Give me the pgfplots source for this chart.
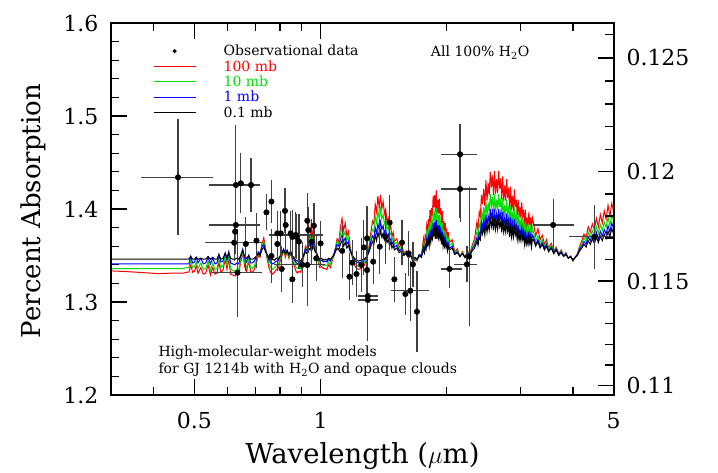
\documentclass[border=0pt]{standalone}
\usepackage{fontspec}
\setmainfont{DejaVu Serif}
\setsansfont{DejaVu Sans}
\usepackage{pgfplots}
\usepackage{pgfplotstable}
\pgfplotsset{compat=1.18}
\definecolor{mgreen}{rgb}{0,0.88,0}

\pgfplotstableread{
lam blk blu grn red
0.3162 1.346 1.341 1.336 1.3335
0.35 1.346 1.341 1.336 1.3325
0.38 1.346 1.341 1.336 1.3315
0.41 1.346 1.341 1.336 1.3305
0.44 1.346 1.341 1.336 1.331
0.47 1.346 1.341 1.336 1.331
0.48 1.346 1.341 1.337 1.332
0.485 1.346 1.341 1.337 1.332
0.490 1.349 1.349 1.345 1.340
0.495 1.346 1.342 1.337 1.332
0.500 1.346 1.343 1.338 1.333
0.505 1.348 1.348 1.343 1.339
0.510 1.346 1.342 1.336 1.331
0.518 1.347 1.347 1.342 1.337
0.525 1.346 1.341 1.335 1.330
0.532 1.346 1.342 1.336 1.331
0.539 1.349 1.348 1.344 1.340
0.546 1.346 1.341 1.334 1.329
0.553 1.348 1.347 1.342 1.337
0.560 1.346 1.341 1.335 1.330
0.566 1.346 1.342 1.336 1.331
0.572 1.351 1.351 1.347 1.343
0.578 1.346 1.343 1.337 1.332
0.585 1.347 1.344 1.339 1.334
0.592 1.352 1.353 1.349 1.346
0.598 1.348 1.345 1.340 1.335
0.604 1.353 1.354 1.350 1.347
0.610 1.347 1.342 1.336 1.330
0.617 1.346 1.341 1.334 1.329
0.624 1.346 1.340 1.333 1.328
0.631 1.347 1.342 1.335 1.330
0.638 1.346 1.341 1.335 1.331
0.645 1.350 1.350 1.346 1.343
0.652 1.355 1.357 1.355 1.353
0.659 1.349 1.347 1.342 1.338
0.666 1.347 1.343 1.337 1.333
0.674 1.350 1.350 1.346 1.344
0.681 1.346 1.342 1.337 1.333
0.688 1.346 1.342 1.336 1.332
0.695 1.347 1.344 1.339 1.335
0.702 1.349 1.348 1.344 1.341
0.710 1.352 1.354 1.352 1.350
0.717 1.350 1.352 1.350 1.348
0.724 1.356 1.359 1.360 1.362
0.732 1.359 1.362 1.365 1.369
0.739 1.354 1.356 1.357 1.358
0.746 1.351 1.350 1.348 1.346
0.753 1.347 1.345 1.341 1.337
0.760 1.345 1.342 1.337 1.332
0.768 1.346 1.341 1.335 1.330
0.776 1.345 1.342 1.337 1.332
0.784 1.347 1.344 1.339 1.335
0.792 1.346 1.344 1.340 1.336
0.800 1.349 1.349 1.346 1.343
0.808 1.352 1.353 1.351 1.349
0.816 1.356 1.357 1.356 1.355
0.824 1.352 1.352 1.350 1.348
0.832 1.355 1.356 1.355 1.354
0.840 1.351 1.351 1.349 1.347
0.848 1.354 1.355 1.354 1.353
0.856 1.350 1.349 1.347 1.345
0.864 1.348 1.346 1.343 1.340
0.872 1.345 1.343 1.338 1.334
0.880 1.344 1.341 1.336 1.331
0.888 1.345 1.342 1.337 1.333
0.896 1.344 1.341 1.336 1.332
0.904 1.347 1.346 1.342 1.339
0.912 1.350 1.351 1.350 1.349
0.920 1.354 1.357 1.358 1.360
0.928 1.352 1.355 1.356 1.357
0.936 1.358 1.362 1.366 1.372
0.944 1.356 1.360 1.364 1.368
0.950 1.362 1.367 1.374 1.385
0.956 1.357 1.360 1.364 1.370
0.962 1.360 1.364 1.369 1.378
0.970 1.354 1.356 1.358 1.361
0.978 1.352 1.353 1.353 1.354
0.986 1.349 1.348 1.346 1.344
0.995 1.346 1.344 1.340 1.337
1.005 1.347 1.345 1.341 1.338
1.015 1.345 1.343 1.339 1.336
1.025 1.346 1.344 1.340 1.336
1.035 1.345 1.343 1.339 1.335
1.045 1.347 1.346 1.343 1.340
1.055 1.346 1.344 1.340 1.337
1.065 1.348 1.348 1.346 1.344
1.075 1.350 1.351 1.350 1.349
1.085 1.354 1.357 1.358 1.358
1.095 1.358 1.362 1.365 1.368
1.105 1.356 1.360 1.363 1.365
1.115 1.362 1.367 1.373 1.380
1.125 1.366 1.372 1.380 1.390
1.135 1.360 1.365 1.371 1.377
1.145 1.364 1.369 1.376 1.385
1.155 1.358 1.362 1.366 1.371
1.165 1.361 1.365 1.370 1.376
1.175 1.355 1.357 1.359 1.361
1.185 1.352 1.352 1.352 1.352
1.195 1.349 1.348 1.346 1.344
1.21 1.346 1.344 1.341 1.338
1.23 1.344 1.342 1.338 1.335
1.25 1.345 1.343 1.339 1.336
1.27 1.346 1.345 1.342 1.339
1.29 1.349 1.349 1.348 1.347
1.30 1.352 1.354 1.355 1.355
1.31 1.356 1.359 1.362 1.365
1.32 1.361 1.366 1.371 1.377
1.33 1.365 1.371 1.378 1.387
1.34 1.362 1.368 1.376 1.384
1.35 1.372 1.380 1.392 1.405
1.36 1.366 1.374 1.385 1.397
1.37 1.375 1.384 1.398 1.414
1.38 1.369 1.377 1.389 1.401
1.39 1.377 1.386 1.400 1.415
1.40 1.370 1.378 1.389 1.400
1.41 1.374 1.382 1.394 1.408
1.42 1.367 1.374 1.384 1.395
1.43 1.371 1.378 1.388 1.400
1.44 1.364 1.370 1.378 1.386
1.45 1.367 1.373 1.381 1.390
1.46 1.361 1.366 1.372 1.378
1.47 1.364 1.368 1.374 1.382
1.48 1.358 1.362 1.366 1.370
1.49 1.361 1.365 1.369 1.375
1.50 1.356 1.359 1.362 1.365
1.52 1.358 1.361 1.364 1.368
1.54 1.353 1.355 1.357 1.359
1.56 1.355 1.357 1.359 1.362
1.58 1.350 1.351 1.352 1.353
1.60 1.352 1.353 1.354 1.355
1.62 1.348 1.348 1.348 1.348
1.64 1.350 1.350 1.350 1.350
1.66 1.346 1.345 1.344 1.343
1.68 1.348 1.347 1.346 1.345
1.70 1.346 1.346 1.345 1.344
1.72 1.350 1.351 1.351 1.351
1.74 1.348 1.349 1.350 1.350
1.760 1.357 1.359 1.362 1.368
1.768 1.353 1.354 1.356 1.359
1.776 1.358 1.361 1.365 1.371
1.784 1.356 1.359 1.362 1.368
1.792 1.364 1.368 1.374 1.383
1.800 1.361 1.364 1.370 1.378
1.808 1.367 1.371 1.378 1.389
1.816 1.360 1.364 1.369 1.377
1.824 1.371 1.377 1.386 1.399
1.832 1.364 1.368 1.375 1.385
1.840 1.372 1.378 1.387 1.401
1.848 1.368 1.373 1.381 1.393
1.856 1.378 1.385 1.396 1.414
1.864 1.372 1.378 1.387 1.402
1.872 1.378 1.386 1.398 1.415
1.880 1.368 1.374 1.383 1.396
1.888 1.381 1.388 1.401 1.420
1.896 1.368 1.374 1.382 1.395
1.904 1.376 1.383 1.394 1.410
1.912 1.369 1.374 1.383 1.395
1.920 1.376 1.383 1.394 1.411
1.928 1.368 1.374 1.382 1.394
1.936 1.372 1.378 1.387 1.401
1.944 1.362 1.366 1.373 1.382
1.952 1.371 1.376 1.385 1.398
1.960 1.360 1.364 1.369 1.377
1.968 1.366 1.370 1.377 1.387
1.976 1.360 1.363 1.369 1.376
1.984 1.365 1.369 1.376 1.385
1.992 1.359 1.362 1.367 1.374
2.000 1.361 1.364 1.369 1.377
2.008 1.355 1.357 1.360 1.364
2.016 1.360 1.363 1.368 1.375
2.03 1.356 1.358 1.361 1.364
2.06 1.358 1.360 1.363 1.367
2.09 1.351 1.352 1.353 1.354
2.12 1.353 1.354 1.355 1.357
2.15 1.349 1.349 1.349 1.349
2.18 1.352 1.352 1.353 1.354
2.21 1.348 1.348 1.348 1.348
2.24 1.352 1.353 1.354 1.355
2.27 1.350 1.350 1.351 1.352
2.30 1.355 1.357 1.359 1.361
2.33 1.358 1.361 1.364 1.368
2.360 1.365 1.369 1.376 1.386
2.375 1.361 1.364 1.369 1.377
2.390 1.370 1.375 1.384 1.397
2.405 1.367 1.372 1.380 1.392
2.420 1.378 1.386 1.397 1.415
2.435 1.373 1.379 1.390 1.405
2.450 1.381 1.389 1.402 1.422
2.465 1.372 1.378 1.388 1.403
2.480 1.385 1.394 1.409 1.431
2.495 1.375 1.382 1.393 1.409
2.510 1.384 1.393 1.407 1.428
2.525 1.377 1.385 1.397 1.415
2.540 1.390 1.400 1.416 1.440
2.555 1.381 1.390 1.403 1.423
2.570 1.388 1.397 1.413 1.436
2.585 1.377 1.385 1.397 1.415
2.600 1.390 1.400 1.416 1.441
2.615 1.378 1.385 1.398 1.416
2.630 1.386 1.395 1.410 1.432
2.645 1.378 1.386 1.399 1.417
2.660 1.390 1.400 1.416 1.441
2.675 1.381 1.389 1.402 1.422
2.690 1.386 1.396 1.411 1.433
2.705 1.375 1.382 1.394 1.411
2.720 1.387 1.397 1.412 1.435
2.735 1.375 1.382 1.393 1.409
2.750 1.382 1.391 1.404 1.425
2.765 1.375 1.381 1.393 1.409
2.780 1.386 1.395 1.410 1.432
2.795 1.376 1.384 1.395 1.412
2.810 1.382 1.390 1.403 1.423
2.825 1.370 1.376 1.386 1.400
2.840 1.382 1.391 1.404 1.424
2.855 1.370 1.376 1.385 1.399
2.870 1.378 1.385 1.397 1.414
2.885 1.370 1.375 1.385 1.398
2.900 1.381 1.389 1.402 1.421
2.915 1.372 1.378 1.387 1.402
2.930 1.376 1.383 1.394 1.410
2.945 1.367 1.372 1.381 1.393
2.960 1.376 1.383 1.394 1.410
2.975 1.366 1.371 1.379 1.391
2.990 1.372 1.378 1.388 1.402
3.005 1.366 1.371 1.379 1.390
3.020 1.375 1.381 1.391 1.407
3.035 1.367 1.372 1.380 1.392
3.050 1.371 1.377 1.386 1.399
3.065 1.362 1.366 1.373 1.382
3.080 1.371 1.377 1.386 1.399
3.095 1.362 1.365 1.371 1.380
3.110 1.367 1.372 1.380 1.391
3.125 1.362 1.365 1.371 1.380
3.140 1.370 1.376 1.384 1.397
3.155 1.363 1.367 1.374 1.383
3.170 1.368 1.372 1.380 1.391
3.185 1.359 1.362 1.367 1.375
3.200 1.367 1.372 1.380 1.391
3.22 1.367 1.370 1.375 1.385
3.26 1.360 1.362 1.366 1.371
3.30 1.365 1.367 1.371 1.379
3.34 1.358 1.360 1.363 1.367
3.38 1.362 1.364 1.367 1.372
3.42 1.356 1.358 1.360 1.362
3.46 1.360 1.362 1.364 1.367
3.50 1.354 1.355 1.357 1.358
3.55 1.358 1.359 1.361 1.363
3.60 1.352 1.353 1.354 1.355
3.65 1.356 1.357 1.358 1.359
3.70 1.350 1.351 1.351 1.352
3.75 1.353 1.354 1.355 1.356
3.80 1.349 1.349 1.350 1.350
3.85 1.351 1.352 1.352 1.353
3.90 1.347 1.347 1.347 1.347
3.95 1.349 1.349 1.349 1.349
4.00 1.345 1.345 1.344 1.344
4.05 1.348 1.348 1.348 1.348
4.10 1.350 1.351 1.351 1.352
4.15 1.355 1.357 1.358 1.360
4.20 1.358 1.360 1.363 1.366
4.25 1.362 1.365 1.369 1.373
4.30 1.359 1.362 1.365 1.369
4.35 1.366 1.370 1.375 1.381
4.40 1.362 1.366 1.370 1.375
4.45 1.368 1.372 1.377 1.384
4.50 1.363 1.367 1.372 1.378
4.55 1.370 1.375 1.381 1.390
4.60 1.364 1.368 1.374 1.381
4.65 1.371 1.376 1.383 1.394
4.70 1.366 1.371 1.377 1.385
4.75 1.373 1.378 1.386 1.398
4.80 1.368 1.373 1.380 1.389
4.85 1.376 1.382 1.391 1.404
4.90 1.370 1.375 1.382 1.392
4.95 1.379 1.385 1.393 1.406
5.012 1.372 1.378 1.386 1.396
}\models

\begin{document}
\begin{tikzpicture}
\begin{axis}[
  at={(0bp,0bp)}, anchor=south west,
  scale only axis, width=503bp, height=372bp,
  xmode=log, xmin=0.3162, xmax=5.012,
  ymin=1.2, ymax=1.6,
  axis line style={line width=1.5bp},
  every tick/.style={black, line width=1.3bp},
  major tick length=16bp, minor tick length=8.5bp,
  tick align=inside,
  /pgf/number format/assume math mode=true,
  tick label style={font=\fontsize{22bp}{26bp}\selectfont},
  xtick={0.5,1,5}, xticklabels={0.5,1,5},
  minor xtick={0.4,0.6,0.7,0.8,0.9,2,3,4},
  xtick pos=both, xticklabel pos=lower,
  ytick={1.2,1.3,1.4,1.5,1.6}, yticklabels={1.2,1.3,1.4,1.5,1.6},
  minor y tick num=4,
  ytick pos=left, yticklabel pos=left,
  xticklabel style={yshift=-14bp},
  yticklabel style={xshift=-9bp},
  xlabel={Wavelength ($\mu$m)},
  ylabel={Percent Absorption},
  xlabel style={font=\fontsize{27.5bp}{31bp}\selectfont, at={(axis description cs:0.5,-0.163)}, anchor=center},
  ylabel style={font=\fontsize{26bp}{30bp}\selectfont, at={(axis description cs:-0.155,0.4946)}, anchor=center},
  legend style={draw=none, fill=none, at={(rel axis cs:0.0835,0.9406)}, anchor=north west,
    font=\fontsize{14bp}{16bp}\selectfont, inner sep=0pt, outer sep=0pt, row sep=3.2bp,
    nodes={inner sep=0pt}},
  legend cell align=left,
]
\addlegendimage{legend image code/.code={\path[draw=none,fill=none] (0bp,0bp) -- (70bp,0bp); \fill[black] (21bp,0bp) circle (1.9bp);}}
\addlegendentry{Observational data}
\addlegendimage{legend image code/.code={\path[draw=none,fill=none] (0bp,0bp) -- (70bp,0bp); \draw[red, line width=1.3bp] (0bp,0bp) -- (42bp,0bp);}}
\addlegendentry{\textcolor{red}{100 mb}}
\addlegendimage{legend image code/.code={\path[draw=none,fill=none] (0bp,0bp) -- (70bp,0bp); \draw[mgreen, line width=1.3bp] (0bp,0bp) -- (42bp,0bp);}}
\addlegendentry{\textcolor{mgreen}{10 mb}}
\addlegendimage{legend image code/.code={\path[draw=none,fill=none] (0bp,0bp) -- (70bp,0bp); \draw[blue, line width=1.3bp] (0bp,0bp) -- (42bp,0bp);}}
\addlegendentry{\textcolor{blue}{1 mb}}
\addlegendimage{legend image code/.code={\path[draw=none,fill=none] (0bp,0bp) -- (70bp,0bp); \draw[black, line width=1.3bp] (0bp,0bp) -- (42bp,0bp);}}
\addlegendentry{0.1 mb}

\addplot[red, line width=1bp, forget plot] table[x=lam, y=red] {\models};
\addplot[mgreen, line width=1bp, forget plot] table[x=lam, y=grn] {\models};
\addplot[blue, line width=1bp, forget plot] table[x=lam, y=blu] {\models};
\addplot[black, line width=1bp, forget plot] table[x=lam, y=blk] {\models};

% observations with wavelength bins
\addplot[only marks, mark=*, mark size=2.8bp, black, forget plot,
  error bars/.cd, x dir=both, x explicit, y dir=both, y explicit,
  error bar style={line width=1.2bp, black!75},
  error mark options={line width=1.2bp, black!75, mark size=4bp}]
coordinates {
(0.457,1.434) += (0.0846,0.058) -= (0.0755,0.058)
(0.628,1.4258) += (0.072,0.060) -= (0.0744,0.060)
(0.628,1.3828) += (0.072,0.015) -= (0.0744,0.015)
(0.6221,1.3638) += (0.0861,0.015) -= (0.0805,0.015)
(0.6337,1.3315) += (0.0745,0.043) -= (0.071,0.043)
(0.6826,1.4258) += (0.02,0.025) -= (0.02,0.025)
(0.873,1.372) += (0.117,0.02) -= (0.103,0.02)
(0.9047,1.340) += (0.095,0.02) -= (0.115,0.02)
(1.296,1.3065) += (0.043,0.025) -= (0.039,0.025)
(1.296,1.3022) += (0.043,0.040) -= (0.039,0.040)
(1.637,1.3121) += (0.14,0.028) -= (0.129,0.028)
(2.03,1.3355) += (0.099,0.016) -= (0.047,0.016)
(2.152,1.4588) += (0.164,0.028) -= (0.169,0.028)
(2.152,1.4215) += (0.164,0.031) -= (0.169,0.031)
(2.234,1.3405) += (0.082,0.015) -= (0.105,0.015)
(3.587,1.3828) += (0.344,0.024) -= (0.311,0.024)
(4.508,1.370) += (0.386,0.030) -= (0.504,0.030)
};

% spectroscopic observations
\addplot[only marks, mark=*, mark size=2.8bp, black, forget plot,
  error bars/.cd, y dir=both, y explicit,
  error bar style={line width=1.2bp, black!75},
  error mark options={line width=1.2bp, black!75, mark size=4bp}]
coordinates {
(0.6453,1.4276) +- (0,0.028)
(0.6255,1.3756) +- (0,0.02)
(0.6632,1.3624) +- (0,0.025)
(0.7032,1.366) +- (0,0.025)
(0.7429,1.3964) +- (0,0.015)
(0.7636,1.408) +- (0,0.019)
(0.7636,1.3495) +- (0,0.025)
(0.7889,1.3738) +- (0,0.02)
(0.7889,1.3624) +- (0,0.025)
(0.8032,1.3738) +- (0,0.02)
(0.8077,1.3355) +- (0,0.02)
(0.8224,1.398) +- (0,0.02)
(0.8256,1.3828) +- (0,0.025)
(0.8485,1.3738) +- (0,0.02)
(0.8564,1.3244) +- (0,0.021)
(0.8564,1.370) +- (0,0.025)
(0.8768,1.370) +- (0,0.02)
(0.888,1.365) +- (0,0.025)
(0.9298,1.3874) +- (0,0.025)
(0.935,1.3774) +- (0,0.02)
(0.9298,1.3398) +- (0,0.04)
(0.9519,1.3649) +- (0,0.02)
(0.964,1.382) +- (0,0.02)
(0.9767,1.347) +- (0,0.02)
(1.0,1.363) +- (0,0.02)
(1.126,1.355) +- (0,0.025)
(1.172,1.3272) +- (0,0.021)
(1.19,1.3423) +- (0,0.02)
(1.218,1.3301) +- (0,0.02)
(1.25,1.3398) +- (0,0.025)
(1.268,1.3587) +- (0,0.025)
(1.291,1.3685) +- (0,0.03)
(1.291,1.3344) +- (0,0.02)
(1.335,1.3434) +- (0,0.02)
(1.384,1.3595) +- (0,0.025)
(1.428,1.370) +- (0,0.025)
(1.461,1.3853) +- (0,0.025)
(1.500,1.3244) +- (0,0.02)
(1.564,1.3638) +- (0,0.02)
(1.593,1.3086) +- (0,0.018)
(1.622,1.3523) +- (0,0.02)
(1.661,1.3405) +- (0,0.02)
(1.698,1.2896) +- (0,0.039)
(2.262,1.349) +- (0,0.07)
};

\node[font=\fontsize{14bp}{16bp}\selectfont, anchor=center] at (rel axis cs:0.734,0.92) {All 100\% H\textsubscript{2}O};
\node[font=\fontsize{14bp}{16bp}\selectfont, anchor=base west] at (rel axis cs:0.0875,0.1022) {High-molecular-weight models};
\node[font=\fontsize{14bp}{16bp}\selectfont, anchor=base west] at (rel axis cs:0.0875,0.0565) {for GJ 1214b with H\textsubscript{2}O and opaque clouds};
\end{axis}

\begin{axis}[
  at={(0bp,0bp)}, anchor=south west,
  scale only axis, width=503bp, height=372bp,
  xmin=-0.5, xmax=0.7,
  ymin=1.2, ymax=1.6,
  axis line style={line width=1.5bp},
  every tick/.style={black, line width=1.3bp},
  major tick length=16bp, minor tick length=8.5bp,
  tick align=inside,
  /pgf/number format/assume math mode=true,
  tick label style={font=\fontsize{22bp}{26bp}\selectfont},
  xtick=\empty, minor xtick={},
  ytick={1.21,1.3225,1.44,1.5625}, yticklabels={0.11,0.115,0.12,0.125},
  minor ytick={1.2321,1.2544,1.2769,1.2996,1.3456,1.3689,1.3924,1.4161,1.4641,1.4884,1.5129,1.5376,1.5876},
  ytick pos=right, yticklabel pos=right,
  yticklabel style={xshift=9bp, anchor=west},
]
\node[anchor=west, font=\fontsize{20bp}{24bp}\selectfont] at (rel axis cs:1,0.541) [xshift=13bp] {R\textsubscript{\sffamily\bfseries eff}/R\textsubscript{\sffamily s}};
\end{axis}
\path (-111bp,-78bp) rectangle (607bp,395bp);
\end{tikzpicture}
\end{document}
